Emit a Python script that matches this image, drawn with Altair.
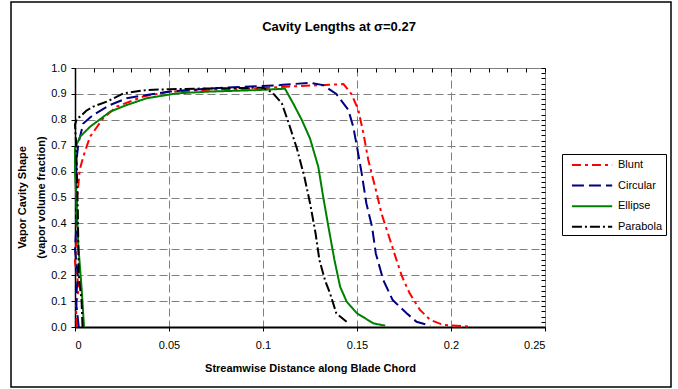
import altair as alt
import pandas as pd

# ---- data ----
chart_title = "Cavity Lengths at σ=0.27"
series_names = ["Blunt", "Circular", "Ellipse", "Parabola"]
series_colors = ["#FF0000", "#000080", "#008000", "#000000"]
series_dashes = [[9, 4, 3, 4], [12, 5], [1, 0], [10, 3, 2, 3]]

blunt_x = [0.001, 0.0005, 0.002, 0.0, 0.001, 0.0005, 0.0018, 0.0025, 0.0044, 0.008, 0.015, 0.0222,
           0.0363, 0.0505, 0.075, 0.098, 0.118, 0.135, 0.1428, 0.147, 0.1507, 0.1534, 0.156,
           0.1596, 0.163, 0.1676, 0.171, 0.174, 0.178, 0.1835, 0.189, 0.196, 0.2, 0.21]
blunt_y = [0.0, 0.08, 0.15, 0.25, 0.35, 0.45, 0.55, 0.606, 0.658, 0.735, 0.806, 0.851,
           0.89, 0.909, 0.917, 0.921, 0.93, 0.935, 0.938, 0.9, 0.838, 0.748, 0.645,
           0.542, 0.439, 0.336, 0.259, 0.194, 0.13, 0.066, 0.027, 0.008, 0.006, 0.002]

circular_x = [0.002, 0.0005, 0.0015, 0.0, 0.001, 0.0005, 0.0009, 0.0018, 0.0044, 0.0097, 0.0186,
              0.0275, 0.038, 0.0505, 0.0718, 0.098, 0.109, 0.125, 0.132, 0.139, 0.1454, 0.148,
              0.15, 0.1525, 0.155, 0.158, 0.16, 0.164, 0.169, 0.1764, 0.1817, 0.189]
circular_y = [0.0, 0.1, 0.2, 0.3, 0.42, 0.55, 0.65, 0.709, 0.786, 0.819, 0.857,
              0.883, 0.896, 0.909, 0.921, 0.93, 0.934, 0.943, 0.934, 0.9, 0.838, 0.773,
              0.696, 0.593, 0.477, 0.387, 0.284, 0.181, 0.104, 0.053, 0.02, 0.005]

ellipse_x = [0.0048, 0.0035, 0.0018, 0.001, 0.0, 0.0, 0.0027, 0.008, 0.0186, 0.0275, 0.038,
             0.054, 0.0718, 0.098, 0.1117, 0.116, 0.1206, 0.125, 0.1294, 0.132, 0.1348,
             0.138, 0.141, 0.1445, 0.15, 0.1587, 0.165]
ellipse_y = [0.0, 0.15, 0.31, 0.45, 0.6, 0.69, 0.735, 0.773, 0.831, 0.857, 0.883,
             0.902, 0.909, 0.915, 0.92, 0.864, 0.8, 0.728, 0.619, 0.503, 0.387,
             0.259, 0.156, 0.098, 0.053, 0.014, 0.005]

parabola_x = [0.004, 0.0035, 0.002, 0.0015, 0.001, 0.0005, 0.0, 0.001, 0.0027, 0.006, 0.0097,
              0.0169, 0.0257, 0.038, 0.0505, 0.07, 0.09, 0.1, 0.105, 0.11, 0.114, 0.118,
              0.122, 0.125, 0.128, 0.13, 0.133, 0.1356, 0.139, 0.1445]
parabola_y = [0.0, 0.1, 0.2, 0.45, 0.6, 0.72, 0.78, 0.806, 0.812, 0.835, 0.851,
              0.87, 0.902, 0.915, 0.918, 0.921, 0.923, 0.924, 0.905, 0.864, 0.78, 0.69,
              0.58, 0.479, 0.36, 0.259, 0.18, 0.131, 0.053, 0.02]

x_major = [0, 0.05, 0.1, 0.15, 0.2, 0.25]
x_minor = [round(i * 0.01, 2) for i in range(26)]
y_major = [round(i * 0.1, 1) for i in range(11)]
y_minor = [round(i * 0.02, 2) for i in range(51)]

rows = []
for name, xs, ys in [("Blunt", blunt_x, blunt_y), ("Circular", circular_x, circular_y),
                     ("Ellipse", ellipse_x, ellipse_y), ("Parabola", parabola_x, parabola_y)]:
    for i, (xv, yv) in enumerate(zip(xs, ys)):
        rows.append({"series": name, "x": xv, "y": yv, "idx": i})
df = pd.DataFrame(rows)

FONT = "Liberation Sans, Arial, sans-serif"
W, H = 470, 259
PL, PT = 75, 68

xscale = alt.Scale(domain=[0, 0.25], nice=False, zero=False)
yscale = alt.Scale(domain=[0, 1], nice=False, zero=False)

lines = alt.Chart(df).mark_line(strokeWidth=2).encode(
    x=alt.X("x:Q", scale=xscale,
            axis=alt.Axis(values=x_major, title="Streamwise Distance along Blade Chord",
                          labelExpr="datum.value == 0 ? '0' : format(datum.value, '.2~f')",
                          grid=True, gridDash=[8, 4], gridColor="#808080", gridWidth=1,
                          domainColor="#000000", domainWidth=2, tickColor="#000000",
                          tickSize=4, labelPadding=8, labelFontSize=11, labelFont=FONT,
                          labelColor="#000000", titleFont=FONT, titleFontSize=11,
                          titleFontWeight="bold", titleColor="#000000",
                          titleY=41, titleBaseline="middle")),
    y=alt.Y("y:Q", scale=yscale,
            axis=alt.Axis(values=y_major, format=".1f",
                          title=["Vapor Cavity Shape", "(vapor volume fraction)"],
                          grid=True, gridDash=[8, 4], gridColor="#808080", gridWidth=1,
                          domainColor="#000000", domainWidth=1.5, tickColor="#000000",
                          tickSize=4, labelPadding=5, labelFontSize=11, labelFont=FONT,
                          labelColor="#000000", titleFont=FONT, titleFontSize=11,
                          titleFontWeight="bold", titleColor="#000000",
                          titleLineHeight=19, titleX=-52.5, titleY=129,
                          titleBaseline="middle", titleAlign="center")),
    color=alt.Color("series:N",
                    scale=alt.Scale(domain=series_names, range=series_colors),
                    legend=alt.Legend(title=None, orient="none", legendX=487, legendY=86,
                                      symbolType="M-0.15,0H5.6", symbolSize=196,
                                      symbolStrokeWidth=2, labelOffset=37,
                                      labelFont=FONT, labelFontSize=11, labelColor="#000000",
                                      strokeColor="#000000", fillColor="#FFFFFF",
                                      padding=3, rowPadding=7.6)),
    strokeDash=alt.StrokeDash("series:N",
                              scale=alt.Scale(domain=series_names, range=series_dashes),
                              legend=None),
    order="idx:Q",
)

minor = alt.Chart(df).mark_line(opacity=0).encode(
    x=alt.X("x:Q", scale=xscale,
            axis=alt.Axis(values=x_minor, labels=False, grid=False, domain=False,
                          tickColor="#000000", tickSize=4, offset=-4, title=None)),
    y=alt.Y("y:Q", scale=yscale,
            axis=alt.Axis(values=y_minor, labels=False, grid=False, domain=False,
                          tickColor="#000000", tickSize=4, offset=-4, title=None)),
)

one_row = alt.Data(values=[{"k": 1}])

frame = alt.Chart(one_row).mark_rect(
    fill="transparent", stroke="#000000", strokeWidth=1.5
).encode(
    x=alt.value(11 - PL), x2=alt.value(671 - PL),
    y=alt.value(2 - PT), y2=alt.value(387 - PT),
)

title = alt.Chart(one_row).mark_text(
    font=FONT, fontSize=13, fontWeight="bold", color="#000000",
    align="center", baseline="middle"
).encode(
    x=alt.value(339 - PL), y=alt.value(27 - PT), text=alt.value(chart_title)
)

chart = alt.layer(lines, minor, frame, title).resolve_axis(
    x="independent", y="independent"
).properties(
    width=W, height=H,
    autosize=alt.AutoSizeParams(type="none"),
    padding={"left": PL, "top": PT, "right": 678 - PL - W, "bottom": 389 - PT - H},
    background="#FFFFFF",
).configure_view(stroke="#808080", strokeWidth=1)

chart.save("out.html", embed_options={"renderer": "svg", "actions": False})
